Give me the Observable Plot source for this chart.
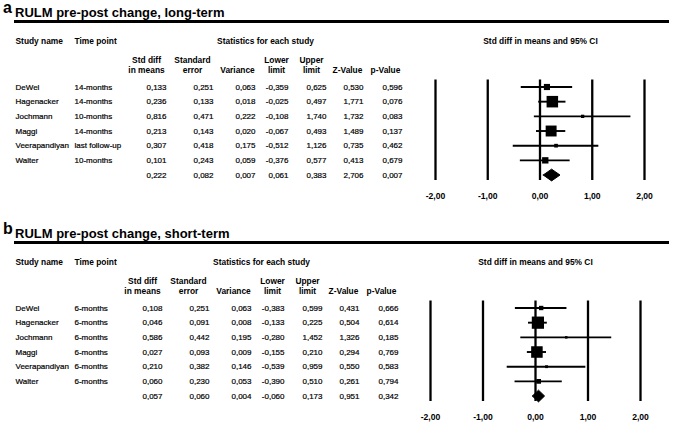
<!DOCTYPE html>
<html><head><meta charset="utf-8">
<script src="https://cdn.jsdelivr.net/npm/d3@7"></script>
<script src="https://cdn.jsdelivr.net/npm/@observablehq/plot@0.6"></script>
<style>
body{margin:0;background:#fff;font-family:"Liberation Sans",Arial,sans-serif;color:#000}
#page{position:relative;width:676px;height:424px;overflow:hidden}
.panel{position:relative;width:676px}
.title{position:relative;height:20px}
.title .lt{position:absolute;left:3px;top:-0.5px;font-size:16px;font-weight:bold;line-height:1}
.title .tx{position:absolute;left:15px;top:6px;font-size:13px;font-weight:bold;line-height:1;white-space:nowrap}
.rule{margin-left:14px;width:655px;height:3px;background:#000}
.panel svg{display:block}
</style>
</head><body><div id="page"></div>
<script>
// ---- data ----
const studies = ["DeWel", "Hagenacker", "Jochmann", "Maggi", "Veerapandiyan", "Walter"];
const timeLong = ["14-months", "14-months", "10-months", "14-months", "last follow-up", "10-months"];
const timeShort = ["6-months", "6-months", "6-months", "6-months", "6-months", "6-months"];
const columnHeaders = ["Std diff\nin means", "Standard\nerror", "Variance", "Lower\nlimit", "Upper\nlimit", "Z-Value", "p-Value"];
const axisTicks = [-2, -1, 0, 1, 2];

// long-term
const stdDiffLong = [0.133, 0.236, 0.816, 0.213, 0.307, 0.101];
const stdErrLong = [0.251, 0.133, 0.471, 0.143, 0.418, 0.243];
const varianceLong = [0.063, 0.018, 0.222, 0.020, 0.175, 0.059];
const lowerLong = [-0.359, -0.025, -0.108, -0.067, -0.512, -0.376];
const upperLong = [0.625, 0.497, 1.740, 0.493, 1.126, 0.577];
const zLong = [0.530, 1.771, 1.732, 1.489, 0.735, 0.413];
const pLong = [0.596, 0.076, 0.083, 0.137, 0.462, 0.679];
const summaryLong = [0.222, 0.082, 0.007, 0.061, 0.383, 2.706, 0.007];

// short-term
const stdDiffShort = [0.108, 0.046, 0.586, 0.027, 0.210, 0.060];
const stdErrShort = [0.251, 0.091, 0.442, 0.093, 0.382, 0.230];
const varianceShort = [0.063, 0.008, 0.195, 0.009, 0.146, 0.053];
const lowerShort = [-0.383, -0.133, -0.280, -0.155, -0.539, -0.390];
const upperShort = [0.599, 0.225, 1.452, 0.210, 0.959, 0.510];
const zShort = [0.431, 0.504, 1.326, 0.294, 0.550, 0.261];
const pShort = [0.666, 0.614, 0.185, 0.769, 0.583, 0.794];
const summaryShort = [0.057, 0.060, 0.004, -0.060, 0.173, 0.951, 0.342];

// ---- layout ----
const loc = d3.formatLocale({decimal: ",", thousands: ".", grouping: [3], currency: ["", ""], minus: "-"});
const fmt3 = loc.format(".3f");
const fmt2 = loc.format(".2f");
const colRight = [166, 213, 255, 288, 326, 363, 402];
const colCenter = [146, 192, 237, 276, 311, 347, 385];
const FONT = "Liberation Sans, Arial, sans-serif";
const bodyText = {fontSize: 8, fill: "black", stroke: "black", strokeWidth: 0.2};

function panel(cfg) {
  const cols = cfg.cols;
  const rows = studies.map((name, i) => ({row: i, name, time: cfg.times[i], vals: cols.map(c => c[i])}));
  const table = rows.concat([{row: 6, name: "", time: "", vals: cfg.summary}]);
  const s = cfg.summary;
  const dh = 0.4;
  const diamond = [
    {x: s[3], y: 6}, {x: s[0], y: 6 - dh}, {x: s[4], y: 6}, {x: s[0], y: 6 + dh}, {x: s[3], y: 6}
  ];
  const top = 56.5, bottom = 157;
  const sh = cfg.shift;
  const marks = [
    // headers
    Plot.text(["Study name"], {text: d => d, frameAnchor: "top-left", dx: 15, dy: 20.5 - top, textAnchor: "start", lineAnchor: "bottom", fontWeight: "bold", fontSize: 8.4, ariaLabel: "ul"}),
    Plot.text(["Time point"], {text: d => d, frameAnchor: "top-left", dx: 74, dy: 20.5 - top, textAnchor: "start", lineAnchor: "bottom", fontWeight: "bold", fontSize: 8.4, ariaLabel: "ul"}),
    Plot.text(["Statistics for each study"], {text: d => d, frameAnchor: "top-left", dx: 265 + sh, dy: 20.5 - top, textAnchor: "middle", lineAnchor: "bottom", fontWeight: "bold", fontSize: 8.4, ariaLabel: "ul"}),
    Plot.text(["Std diff in means and 95% CI"], {text: d => d, frameAnchor: "top-left", dx: 540 + cfg.fshift, dy: 20.5 - top, textAnchor: "middle", lineAnchor: "bottom", fontWeight: "bold", fontSize: 8.4, ariaLabel: "ul"}),
    ...columnHeaders.map((h, c) => Plot.text([h], {text: d => d, frameAnchor: "top-left", dx: colCenter[c] + sh, dy: 49.5 - top, textAnchor: "middle", lineAnchor: "bottom", lineHeight: 1.19, fontWeight: "bold", fontSize: 8.4})),
    // table body
    Plot.text(table, {y: "row", text: "name", frameAnchor: "left", dx: 15, textAnchor: "start", ...bodyText}),
    Plot.text(table, {y: "row", text: "time", frameAnchor: "left", dx: 74, textAnchor: "start", ...bodyText}),
    ...colRight.map((xr, c) => Plot.text(table, {y: "row", text: d => fmt3(d.vals[c]), frameAnchor: "left", dx: xr + sh, textAnchor: "end", ...bodyText})),
    // forest
    Plot.ruleX(axisTicks, {x: d => d, strokeWidth: 2.3}),
    Plot.ruleY(rows, {y: "row", x1: d => d.vals[3], x2: d => d.vals[4], strokeWidth: 1.9}),
    Plot.dot(rows, {x: d => d.vals[0], y: "row", r: d => 1 / d.vals[2], symbol: "square", fill: "black"}),
    Plot.line(diamond, {x: "x", y: "y", fill: "black", stroke: "black", strokeWidth: 1}),
    Plot.text(axisTicks, {x: d => d, text: d => fmt2(d), frameAnchor: "bottom", dy: 18, lineAnchor: "bottom", fontWeight: "bold", fontSize: 8.6})
  ];
  const svg = Plot.plot({
    width: 676, height: cfg.height,
    marginLeft: 0, marginRight: 0, marginTop: top, marginBottom: cfg.height - bottom,
    x: {domain: [-2, 2], range: cfg.xRange, axis: null},
    y: {domain: [0, 6], range: [63.5, 63.5 + 6 * 14.67], axis: null},
    r: {range: [0, cfg.rMax]},
    style: {fontFamily: FONT, background: "transparent", color: "black", overflow: "visible"},
    marks
  });
  svg.querySelectorAll('[aria-label="ul"] text').forEach(t => t.style.textDecoration = "underline");

  const div = document.createElement("div");
  div.className = "panel";
  const title = document.createElement("div");
  title.className = "title";
  const lt = document.createElement("span"); lt.className = "lt"; lt.textContent = cfg.letter;
  const tx = document.createElement("span"); tx.className = "tx"; tx.textContent = cfg.title;
  title.append(lt, tx);
  const rule = document.createElement("div"); rule.className = "rule";
  div.append(title, rule, svg);
  return div;
}

const page = document.getElementById("page");
page.append(panel({
  letter: "a", title: "RULM pre-post change, long-term", times: timeLong,
  cols: [stdDiffLong, stdErrLong, varianceLong, lowerLong, upperLong, zLong, pLong],
  summary: summaryLong, shift: 0, fshift: 0, xRange: [435, 644], rMax: 6.5, height: 198
}));
page.append(panel({
  letter: "b", title: "RULM pre-post change, short-term", times: timeShort,
  cols: [stdDiffShort, stdErrShort, varianceShort, lowerShort, upperShort, zShort, pShort],
  summary: summaryShort, shift: -4, fshift: -5, xRange: [430, 640], rMax: 6.9, height: 180
}));
</script>
</body></html>
